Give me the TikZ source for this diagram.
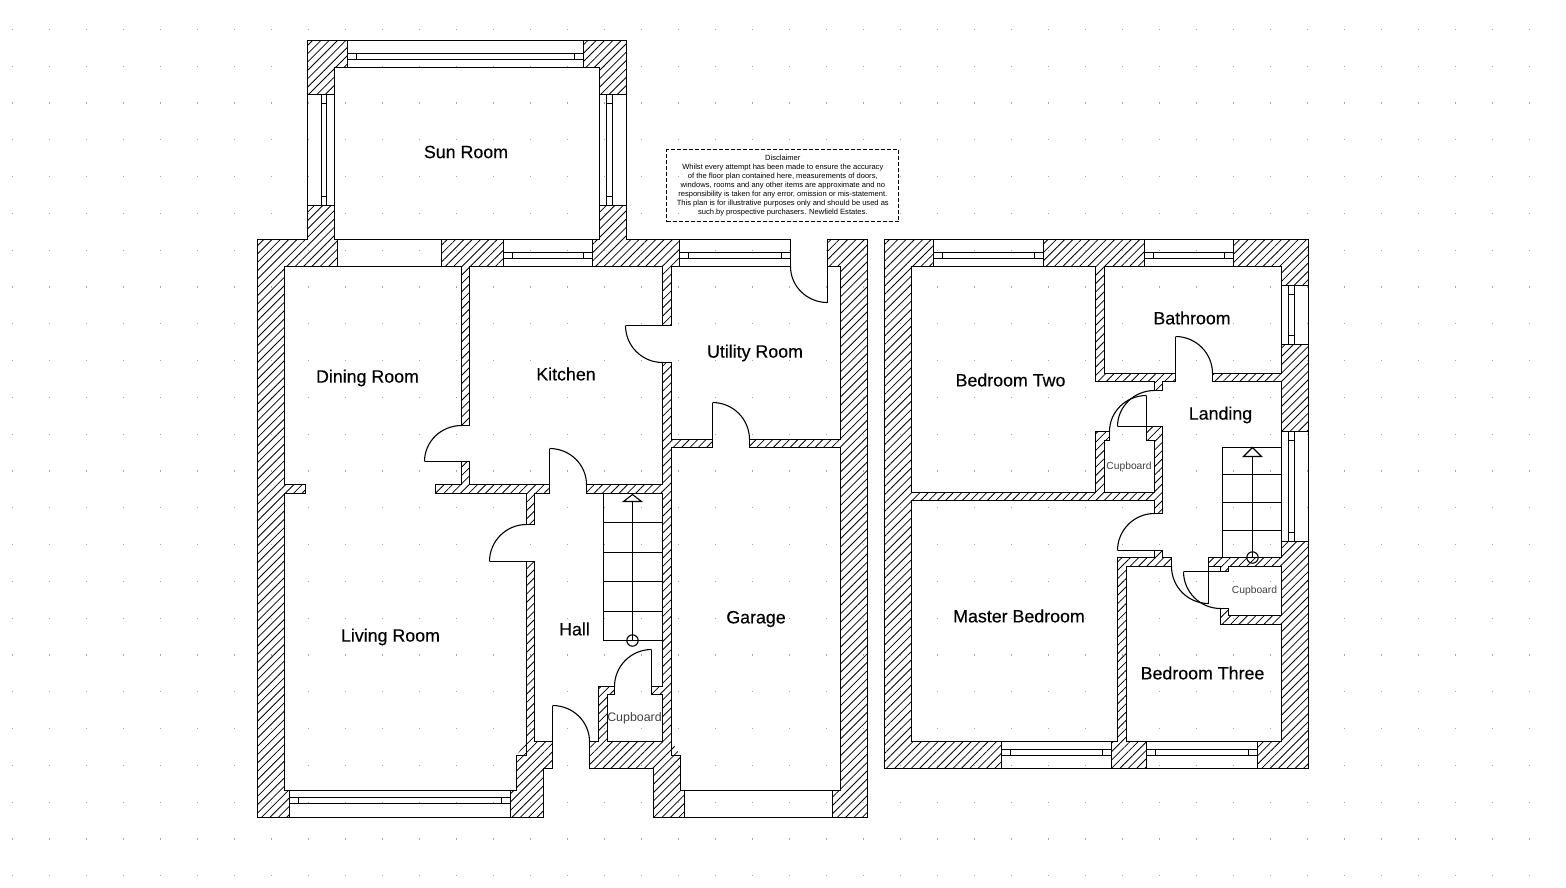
\documentclass[tikz,border=0pt]{standalone}
\usepackage{fontspec}
\setmainfont{Liberation Sans}
\newfontfamily\planfont[FakeBold=0.3]{Liberation Sans}
\usetikzlibrary{calc,patterns.meta}
\tikzset{
  planline/.style={line width=1.1pt,black},
  wallhatch/.style={planline,pattern={Lines[angle=45,distance=5.9pt,line width=0.8pt]},pattern color=black},
  loosehatch/.style={pattern={Lines[angle=45,distance=5.9pt,line width=0.8pt]},pattern color=black},
  roomlabel/.style={font=\planfont\fontsize{17.8}{20}\selectfont,inner sep=0pt},
  bigcupboard/.style={font=\fontsize{12.4}{14}\selectfont,inner sep=0pt,text=black!75},
  smallcupboard/.style={font=\fontsize{10.3}{12}\selectfont,inner sep=0pt,text=black!75},
  griddot/.style={fill=black!35}
}
\newcommand{\doorarc}[3]{\draw[planline] #1 .. controls ($#1!0.552!#3$) and ($#2!0.552!#3$) .. #2;}
\newcommand{\hwindow}[6]{
  \draw[planline] (#1,#3) rectangle (#2,#4);
  \draw[planline] (#1,#5) rectangle (#2,#6);
  \draw[planline] ({#1+9},#5)--({#1+9},#6);
  \draw[planline] ({#2-9},#5)--({#2-9},#6);
}
\newcommand{\vwindow}[6]{
  \draw[planline] (#1,#3) rectangle (#2,#4);
  \draw[planline] (#5,#3) rectangle (#6,#4);
  \draw[planline] (#5,{#3+9})--(#6,{#3+9});
  \draw[planline] (#5,{#4-9})--(#6,{#4-9});
}
\begin{document}
\begin{tikzpicture}[x=1pt,y=-1pt]
  \useasboundingbox (0,0) rectangle (1566,887);
  \foreach \i in {0,...,42}
    \foreach \j in {0,...,23}
      \fill[griddot] ({12.5+37*\i-0.6},{29.3+36.8*\j-0.6}) rectangle ++(1.2,1.2);

  \draw[wallhatch] (307.5,40.5)--(347.5,40.5)--(347.5,67.5)--(334.5,67.5)--(334.5,94.5)--(307.5,94.5)--cycle;
  \draw[wallhatch] (583.5,40.5)--(626.5,40.5)--(626.5,94.5)--(599.5,94.5)--(599.5,67.5)--(583.5,67.5)--cycle;
  \draw[wallhatch] (257.5,239.5)--(307.5,239.5)--(307.5,205.5)--(334.5,205.5)--(334.5,239.5)--(337.5,239.5)--(337.5,266.5)--(284.5,266.5)--(284.5,484.5)--(305.5,484.5)--(305.5,493.5)--(284.5,493.5)--(284.5,790.5)--(289.5,790.5)--(289.5,817.5)--(257.5,817.5)--cycle;
  \draw[wallhatch] (441.5,239.5)--(503.5,239.5)--(503.5,266.5)--(469.5,266.5)--(469.5,425.5)--(461.5,425.5)--(461.5,266.5)--(441.5,266.5)--cycle;
  \draw[wallhatch] (592.5,239.5)--(599.5,239.5)--(599.5,205.5)--(626.5,205.5)--(626.5,239.5)--(679.5,239.5)--(679.5,266.5)--(671.5,266.5)--(671.5,325.5)--(662.5,325.5)--(662.5,266.5)--(592.5,266.5)--cycle;
  \draw[wallhatch] (461.5,461.5)--(469.5,461.5)--(469.5,484.5)--(549.5,484.5)--(549.5,493.5)--(534.5,493.5)--(534.5,524.5)--(526.5,524.5)--(526.5,493.5)--(435.5,493.5)--(435.5,484.5)--(461.5,484.5)--cycle;
  \draw[wallhatch] (526.5,561.5)--(534.5,561.5)--(534.5,741.5)--(552.5,741.5)--(552.5,768.5)--(543.5,768.5)--(543.5,817.5)--(510.5,817.5)--(510.5,790.5)--(516.5,790.5)--(516.5,755.5)--(526.5,755.5)--cycle;
  \draw[wallhatch] (662.5,362.5)--(671.5,362.5)--(671.5,439.5)--(712.5,439.5)--(712.5,447.5)--(671.5,447.5)--(671.5,755.5)--(680.5,755.5)--(680.5,790.5)--(684.5,790.5)--(684.5,817.5)--(653.5,817.5)--(653.5,768.5)--(589.5,768.5)--(589.5,741.5)--(598.5,741.5)--(598.5,686.5)--(614.5,686.5)--(614.5,694.5)--(607.5,694.5)--(607.5,741.5)--(662.5,741.5)--(662.5,694.5)--(651.5,694.5)--(651.5,686.5)--(662.5,686.5)--(662.5,493.5)--(586.5,493.5)--(586.5,484.5)--(662.5,484.5)--cycle;
  \draw[wallhatch] (827.5,239.5)--(867.5,239.5)--(867.5,817.5)--(832.5,817.5)--(832.5,790.5)--(840.5,790.5)--(840.5,447.5)--(749.5,447.5)--(749.5,439.5)--(840.5,439.5)--(840.5,266.5)--(827.5,266.5)--cycle;
  \fill[loosehatch] (516.5,755.5)--(526.5,755.5)--(526.5,741.5)--cycle;
  \fill[loosehatch] (671.5,755.5)--(680.5,755.5)--(671.5,741.5)--cycle;

  \draw[planline] (334.5,67.5) rectangle (599.5,239.5);
  \draw[planline] (337.5,239.5) rectangle (441.5,266.5);
  \draw[planline] (684.5,790.5) rectangle (832.5,817.5);
  \hwindow{347.5}{583.5}{40.5}{67.5}{53.5}{59.5}
  \vwindow{307.5}{334.5}{94.5}{205.5}{321.5}{326.5}
  \vwindow{599.5}{626.5}{94.5}{205.5}{606.5}{612.5}
  \hwindow{503.5}{592.5}{239.5}{266.5}{252.5}{258.5}
  \hwindow{679.5}{790.5}{239.5}{266.5}{252.5}{258.5}
  \hwindow{289.5}{510.5}{790.5}{817.5}{797.5}{803.5}

  \draw[planline] (827.5,266.5)--(827.5,302.5);
  \doorarc{(790.5,266.5)}{(827.5,302.5)}{(790.5,302.5)}
  \draw[planline] (625.5,325.5)--(662.5,325.5);
  \doorarc{(625.5,325.5)}{(662.5,362.5)}{(625.5,362.5)}
  \draw[planline] (712.5,439.5)--(712.5,402.5);
  \doorarc{(712.5,402.5)}{(749.5,439.5)}{(749.5,402.5)}
  \draw[planline] (424.5,461.5)--(461.5,461.5);
  \doorarc{(424.5,461.5)}{(461.5,425.5)}{(424.5,425.5)}
  \draw[planline] (549.5,484.5)--(549.5,448.5);
  \doorarc{(549.5,448.5)}{(586.5,484.5)}{(586.5,448.5)}
  \draw[planline] (489.5,561.5)--(526.5,561.5);
  \doorarc{(489.5,561.5)}{(526.5,524.5)}{(489.5,524.5)}
  \draw[planline] (651.5,686.5)--(651.5,649.5);
  \doorarc{(651.5,649.5)}{(614.5,686.5)}{(614.5,649.5)}
  \draw[planline] (552.5,741.5)--(552.5,705.5);
  \doorarc{(552.5,705.5)}{(589.5,741.5)}{(589.5,705.5)}

  \draw[planline] (603.5,493.5)--(603.5,640.5)--(662.5,640.5);
  \draw[planline] (603.5,522.5)--(662.5,522.5);
  \draw[planline] (603.5,552.5)--(662.5,552.5);
  \draw[planline] (603.5,581.5)--(662.5,581.5);
  \draw[planline] (603.5,611.5)--(662.5,611.5);
  \draw[planline] (632.5,640.5)--(632.5,501.5);
  \draw[planline] (623.5,501.5)--(632.5,494.5)--(641.5,501.5)--cycle;
  \draw[planline] (632.5,640.5) circle[radius=5.7];

  \draw[wallhatch] (884.5,239.5)--(933.5,239.5)--(933.5,266.5)--(911.5,266.5)--(911.5,492.5)--(1095.5,492.5)--(1095.5,431.5)--(1109.5,431.5)--(1109.5,440.5)--(1104.5,440.5)--(1104.5,492.5)--(1154.5,492.5)--(1154.5,440.5)--(1146.5,440.5)--(1146.5,426.5)--(1162.5,426.5)--(1162.5,513.5)--(1154.5,513.5)--(1154.5,500.5)--(911.5,500.5)--(911.5,741.5)--(1001.5,741.5)--(1001.5,768.5)--(884.5,768.5)--cycle;
  \draw[wallhatch] (1043.5,239.5)--(1144.5,239.5)--(1144.5,266.5)--(1104.5,266.5)--(1104.5,373.5)--(1175.5,373.5)--(1175.5,381.5)--(1162.5,381.5)--(1162.5,390.5)--(1154.5,390.5)--(1154.5,381.5)--(1095.5,381.5)--(1095.5,266.5)--(1043.5,266.5)--cycle;
  \draw[wallhatch] (1233.5,239.5)--(1308.5,239.5)--(1308.5,285.5)--(1281.5,285.5)--(1281.5,266.5)--(1233.5,266.5)--cycle;
  \draw[wallhatch] (1212.5,373.5)--(1281.5,373.5)--(1281.5,344.5)--(1308.5,344.5)--(1308.5,431.5)--(1281.5,431.5)--(1281.5,381.5)--(1212.5,381.5)--cycle;
  \draw[wallhatch] (1154.5,550.5)--(1162.5,550.5)--(1162.5,557.5)--(1171.5,557.5)--(1171.5,566.5)--(1126.5,566.5)--(1126.5,741.5)--(1146.5,741.5)--(1146.5,768.5)--(1111.5,768.5)--(1111.5,741.5)--(1117.5,741.5)--(1117.5,557.5)--(1154.5,557.5)--cycle;
  \draw[wallhatch] (1208.5,557.5)--(1281.5,557.5)--(1281.5,541.5)--(1308.5,541.5)--(1308.5,768.5)--(1257.5,768.5)--(1257.5,741.5)--(1281.5,741.5)--(1281.5,624.5)--(1220.5,624.5)--(1220.5,608.5)--(1228.5,608.5)--(1228.5,615.5)--(1281.5,615.5)--(1281.5,566.5)--(1228.5,566.5)--(1228.5,571.5)--(1220.5,571.5)--(1220.5,566.5)--(1208.5,566.5)--cycle;

  \hwindow{933.5}{1043.5}{239.5}{266.5}{252.5}{258.5}
  \hwindow{1144.5}{1233.5}{239.5}{266.5}{252.5}{258.5}
  \vwindow{1281.5}{1308.5}{285.5}{344.5}{1288.5}{1294.5}
  \vwindow{1281.5}{1308.5}{431.5}{541.5}{1288.5}{1294.5}
  \hwindow{1001.5}{1111.5}{741.5}{768.5}{749.5}{755.5}
  \hwindow{1146.5}{1257.5}{741.5}{768.5}{749.5}{755.5}

  \draw[planline] (1175.5,373.5)--(1175.5,336.5);
  \doorarc{(1175.5,336.5)}{(1212.5,373.5)}{(1212.5,336.5)}
  \draw[planline] (1117.5,426.5)--(1146.5,426.5);
  \doorarc{(1117.5,426.5)}{(1154.5,390.5)}{(1117.5,390.5)}
  \draw[planline] (1146.5,426.5)--(1146.5,395.5);
  \doorarc{(1146.5,395.5)}{(1109.5,431.5)}{(1109.5,395.5)}
  \draw[planline] (1117.5,550.5)--(1154.5,550.5);
  \doorarc{(1117.5,550.5)}{(1154.5,513.5)}{(1117.5,513.5)}
  \draw[planline] (1208.5,566.5)--(1208.5,603.5);
  \doorarc{(1171.5,566.5)}{(1208.5,603.5)}{(1171.5,603.5)}
  \draw[planline] (1183.5,571.5)--(1220.5,571.5);
  \doorarc{(1183.5,571.5)}{(1220.5,608.5)}{(1183.5,608.5)}

  \draw[planline] (1222.5,557.5)--(1222.5,447.5)--(1281.5,447.5);
  \draw[planline] (1222.5,474.5)--(1281.5,474.5);
  \draw[planline] (1222.5,502.5)--(1281.5,502.5);
  \draw[planline] (1222.5,530.5)--(1281.5,530.5);
  \draw[planline] (1252.5,557.5)--(1252.5,456.5);
  \draw[planline] (1243.5,456.5)--(1252.5,447.5)--(1261.5,456.5)--cycle;
  \draw[planline] (1252.5,557.5) circle[radius=5.7];

  \node[roomlabel] (sunroom) at (466,152) {Sun Room};
  \node[roomlabel] (diningroom) at (367.5,378) {Dining Room};
  \node[roomlabel] (kitchen) at (566,374) {Kitchen};
  \node[roomlabel] (utilityroom) at (755,353) {Utility Room};
  \node[roomlabel] (livingroom) at (390.5,637) {Living Room};
  \node[roomlabel] (hall) at (574.5,629) {Hall};
  \node[roomlabel] (garage) at (756,619) {Garage};
  \node[bigcupboard] (hallcupboard) at (634.5,718) {Cupboard};
  \node[roomlabel] (bedroomtwo) at (1010.5,380) {Bedroom Two};
  \node[roomlabel] (bathroom) at (1192,318) {Bathroom};
  \node[roomlabel] (landing) at (1220.5,415) {Landing};
  \node[roomlabel] (masterbedroom) at (1019,616) {Master Bedroom};
  \node[roomlabel] (bedroomthree) at (1202.5,673) {Bedroom Three};
  \node[smallcupboard] (twocupboard) at (1129,467) {Cupboard};
  \node[smallcupboard] (threecupboard) at (1254.5,591) {Cupboard};

  \node[draw,dash pattern=on 4pt off 2pt,line width=1pt,minimum width=232pt,minimum height=72pt,inner sep=0pt,align=center,font=\fontsize{7.55}{8.9}\selectfont] (disclaimer) at (782.8,185.7) {Disclaimer\\Whilst every attempt has been made to ensure the accuracy\\of the floor plan contained here, measurements of doors,\\windows, rooms and any other items are approximate and no\\responsibility is taken for any error, omission or mis-statement.\\This plan is for illustrative purposes only and should be used as\\such by prospective purchasers. Newfield Estates.};
\end{tikzpicture}
\end{document}
